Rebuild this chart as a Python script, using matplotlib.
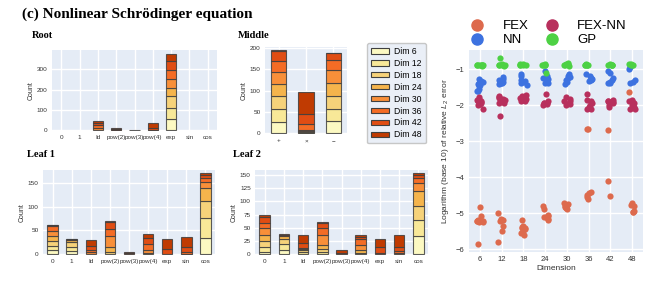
import numpy as np
import matplotlib
matplotlib.use("Agg")
import matplotlib.pyplot as plt
from matplotlib.lines import Line2D
from matplotlib.patches import Patch

plt.rcParams["font.family"] = ["Liberation Sans", "DejaVu Sans"]
plt.rcParams["mathtext.fontset"] = "custom"
plt.rcParams["mathtext.it"] = "Liberation Sans:italic"
plt.rcParams["mathtext.rm"] = "Liberation Sans"

# ---------------- data ----------------
dim_labels = ["Dim 6", "Dim 12", "Dim 18", "Dim 24", "Dim 30", "Dim 36", "Dim 42", "Dim 48"]
unary_cats = ["0", "1", "Id", "pow(2)", "pow(3)", "pow(4)", "exp", "sin", "cos"]
binary_cats = ["+", "×", "−"]

# rows = dims (6..48), columns = categories
root_counts = [
    [0, 0, 0, 0, 0, 0, 54, 0, 0],
    [0, 0, 0, 0, 0, 0, 57, 0, 0],
    [0, 0, 0, 0, 0, 0, 58, 0, 0],
    [0, 0, 0, 0, 0, 0, 41, 0, 0],
    [0, 0, 12, 0, 0, 0, 41, 0, 0],
    [0, 0, 14, 3, 0, 3, 44, 0, 0],
    [0, 0, 12, 3, 0, 8, 46, 0, 0],
    [0, 0, 8, 4, 2, 24, 36, 0, 0],
]
middle_counts = [
    [27, 0, 28],
    [31, 1, 29],
    [30, 2, 30],
    [28, 2, 32],
    [27, 3, 30],
    [26, 13, 24],
    [24, 23, 15],
    [3, 54, 2],
]
leaf1_counts = [
    [9, 7, 0, 0, 0, 0, 0, 0, 34],
    [9, 7, 0, 0, 0, 0, 0, 0, 42],
    [10, 12, 0, 4, 0, 0, 0, 0, 36],
    [10, 3, 0, 12, 0, 3, 0, 0, 28],
    [11, 1, 4, 22, 0, 5, 0, 1, 12],
    [10, 1, 5, 16, 0, 13, 0, 3, 9],
    [2, 1, 8, 13, 2, 12, 11, 10, 7],
    [1, 0, 13, 3, 3, 9, 21, 22, 4],
]
leaf2_counts = [
    [4, 9, 0, 0, 0, 0, 0, 0, 34],
    [10, 10, 4, 4, 0, 0, 0, 0, 30],
    [12, 11, 4, 6, 0, 3, 0, 0, 28],
    [11, 5, 3, 8, 0, 6, 0, 0, 27],
    [12, 0, 1, 19, 0, 9, 0, 3, 15],
    [11, 0, 0, 12, 0, 12, 3, 4, 10],
    [11, 1, 10, 11, 3, 3, 12, 8, 6],
    [3, 2, 14, 1, 5, 3, 14, 21, 4],
]

dims = [6, 12, 18, 24, 30, 36, 42, 48]
methods = ["FEX", "NN", "FEX-NN", "GP"]
fex_err = [
    [-4.82, -5.07, -5.18, -5.2, -5.22, -5.25, -5.23, -5.85, -5.21, -5.24],
    [-5.0, -5.17, -5.2, -5.22, -5.37, -5.49, -5.8, -5.19],
    [-5.2, -5.35, -5.4, -5.42, -5.5, -5.55, -5.6, -5.45, -5.38],
    [-4.8, -4.88, -5.05, -5.08, -5.1, -5.15, -5.2, -5.12],
    [-4.72, -4.75, -4.78, -4.8, -4.82, -4.85, -4.88, -4.8],
    [-2.67, -2.67, -4.42, -4.45, -4.5, -4.55, -4.6],
    [-2.7, -4.12, -4.52],
    [-1.65, -4.72, -4.78, -4.8, -4.95, -4.97, -4.98],
]
nn_err = [
    [-1.28, -1.33, -1.40, -1.45, -1.48, -1.55, -1.6, -1.62, -1.35, -1.42],
    [-1.23, -1.27, -1.35, -1.38, -1.4, -1.42, -1.3, -1.36],
    [-1.15, -1.2, -1.3, -1.35, -1.4, -1.45, -1.33],
    [-1.05, -1.2, -1.25, -1.28, -1.3, -1.35, -1.38, -1.4],
    [-1.15, -1.2, -1.22, -1.25, -1.3, -1.35, -1.42],
    [-1.15, -1.2, -1.25, -1.28, -1.3, -1.33],
    [-1.05, -1.1, -1.25, -1.3, -1.35, -1.4, -1.38],
    [-0.95, -1.0, -1.3, -1.35, -1.38],
]
fexnn_err = [
    [-1.78, -1.85, -1.9, -1.92, -1.95, -1.97, -2.0, -1.88, -2.1, -1.82],
    [-1.75, -1.78, -1.8, -1.85, -1.9, -1.95, -1.93, -2.3, -1.82],
    [-1.73, -1.75, -1.8, -1.82, -1.85, -1.9, -1.88],
    [-1.68, -1.9, -1.93, -1.95, -1.97, -2.0, -1.95],
    [-1.78, -1.82, -1.88, -1.9, -1.95, -1.98, -2.0],
    [-1.7, -1.85, -1.9, -1.95, -2.0, -2.05, -2.1, -2.12],
    [-1.85, -1.88, -1.9, -1.92, -1.95, -2.0, -2.05],
    [-1.85, -1.88, -1.9, -1.95, -2.0, -2.05, -2.1, -2.12],
]
gp_err = [
    [-0.88, -0.89, -0.9, -0.9, -0.91, -0.89, -0.9, -0.88],
    [-0.7, -0.85, -0.88, -0.9, -0.9, -0.92, -0.89],
    [-0.86, -0.87, -0.88, -0.88, -0.89, -0.9],
    [-0.87, -0.88, -0.88, -0.89, -0.89, -1.12],
    [-0.83, -0.85, -0.86, -0.88, -0.9, -0.92],
    [-0.87, -0.88, -0.88, -0.89, -0.89, -0.88],
    [-0.87, -0.88, -0.88, -0.89, -0.89, -0.88],
    [-0.86, -0.87, -0.88, -0.88, -0.9],
]

# ---------------- style ----------------
BG = "#e5ecf6"
dim_colors = ["#fcf9c2", "#f8e898", "#f6d27a", "#f5b44c", "#f88f39", "#f46c25", "#e04d13", "#c03b02"]
method_colors = {"FEX": "#dd6a4d", "NN": "#3d72e0", "FEX-NN": "#b8305d", "GP": "#4dd144"}
serif = "Liberation Serif"
TXT = "#333333"

fig = plt.figure(figsize=(6.64, 2.85), dpi=100)
W, H = 664, 285


def add_ax(l, t, r, b):
    return fig.add_axes([l / W, 1 - b / H, (r - l) / W, (b - t) / H])


def style(ax, fs=4.6):
    ax.set_facecolor(BG)
    for s in ax.spines.values():
        s.set_visible(False)
    ax.grid(True, color="white", lw=1.0)
    ax.set_axisbelow(True)
    ax.tick_params(length=0, labelsize=fs, colors=TXT, pad=3)


def stacked(ax, cats, table, ylim, yticks):
    x = np.arange(len(cats))
    bottom = np.zeros(len(cats))
    for i, vals in enumerate(table):
        vals = np.asarray(vals, dtype=float)
        m = vals > 0
        ax.bar(x[m], vals[m], bottom=bottom[m], width=0.55, color=dim_colors[i],
               edgecolor=(0.25, 0.25, 0.25, 0.85), linewidth=0.8, zorder=3)
        bottom += vals
    ax.set_xticks(x)
    ax.set_xticklabels(cats)
    ax.set_xlim(-0.5, len(cats) - 0.5)
    ax.set_ylim(*ylim)
    ax.set_yticks(yticks)
    ax.set_ylabel("Count", fontsize=5, color=TXT, labelpad=2)
    style(ax)


fig.text(22 / W, 1 - 18 / H, "(c) Nonlinear Schrödinger equation", family=serif,
         weight="bold", fontsize=11, va="baseline")

ax_root = add_ax(52, 50, 217, 131)
stacked(ax_root, unary_cats, root_counts, (-3, 395), [0, 100, 200, 300])
fig.text(32 / W, 1 - 38 / H, "Root", family=serif, weight="bold", fontsize=7.5, va="baseline")

ax_mid = add_ax(265, 47, 347, 134)
stacked(ax_mid, binary_cats, middle_counts, (-2, 203), [0, 50, 100, 150, 200])
fig.text(238 / W, 1 - 38 / H, "Middle", family=serif, weight="bold", fontsize=7.5, va="baseline")

handles = [Patch(facecolor=c, edgecolor=(0.25, 0.25, 0.25), linewidth=0.8) for c in dim_colors]
leg = fig.legend(handles, dim_labels, loc="upper left", bbox_to_anchor=(367 / W, 1 - 43 / H),
                 fontsize=6.2, frameon=True, handlelength=2.1, handleheight=0.6,
                 labelspacing=0.34, borderpad=0.45, handletextpad=0.6, borderaxespad=0)
leg.get_frame().set_facecolor(BG)
leg.get_frame().set_edgecolor("#bbbbbb")

ax_l1 = add_ax(43, 170, 215, 255)
stacked(ax_l1, unary_cats, leaf1_counts, (-2, 178), [0, 50, 100, 150])
fig.text(27 / W, 1 - 157 / H, "Leaf 1", family=serif, weight="bold", fontsize=7.5, va="baseline")

ax_l2 = add_ax(255, 170, 428, 255)
stacked(ax_l2, unary_cats, leaf2_counts, (-1, 159), [0, 25, 50, 75, 100, 125, 150])
fig.text(233 / W, 1 - 157 / H, "Leaf 2", family=serif, weight="bold", fontsize=7.5, va="baseline")

# ---------------- strip plot ----------------
ax_s = add_ax(469, 50, 643, 252)
style(ax_s, fs=5.5)
rng = np.random.RandomState(3)
series = {"FEX": fex_err, "NN": nn_err, "FEX-NN": fexnn_err, "GP": gp_err}
for name in methods:
    for i, vals in enumerate(series[name]):
        jit = rng.uniform(-0.16, 0.16, len(vals))
        ax_s.scatter(np.full(len(vals), i) + jit, vals, s=20, color=method_colors[name],
                     linewidths=0, zorder=3)
ax_s.set_xticks(range(len(dims)))
ax_s.set_xticklabels([str(d) for d in dims])
ax_s.set_xlim(-0.5, len(dims) - 0.5)
ax_s.set_ylim(-6.08, -0.47)
ax_s.set_yticks([-6, -5, -4, -3, -2, -1])
ax_s.set_xlabel("Dimension", fontsize=6, color=TXT, labelpad=1)
ax_s.set_ylabel("Logarithm (base 10) of relative $L_2$ error", fontsize=6, color=TXT, labelpad=4)

mh = [Line2D([], [], marker="o", ls="", color=method_colors[m], markersize=8) for m in methods]
fig.legend(mh, methods, ncol=2, loc="upper left", bbox_to_anchor=(455 / W, 1 - 11 / H),
           frameon=False, fontsize=9.5, handletextpad=0.9, columnspacing=0.8,
           labelspacing=0.12, borderpad=0.2)

fig.savefig("out.png", dpi=100)
